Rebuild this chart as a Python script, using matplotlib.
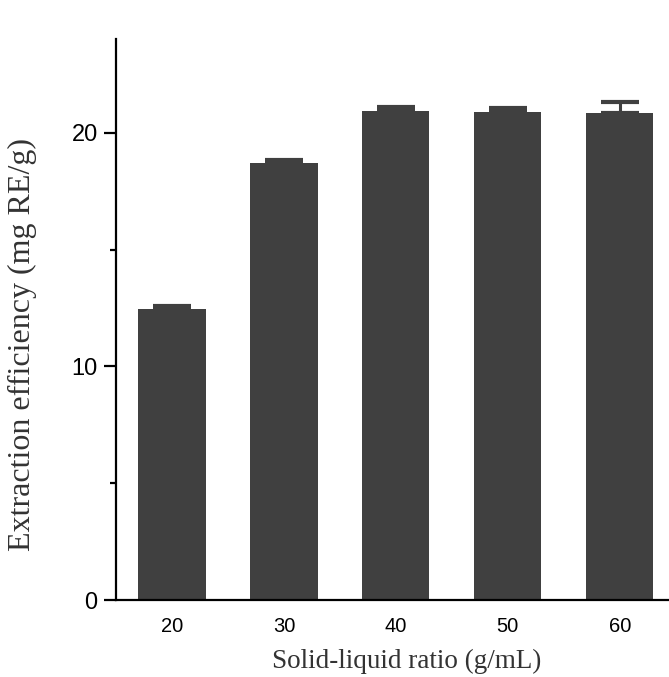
import matplotlib
matplotlib.use("Agg")
import matplotlib.pyplot as plt
from matplotlib.ticker import MultipleLocator

categories = ["20", "30", "40", "50", "60"]
values = [12.46, 18.70, 20.94, 20.91, 20.84]
errors = [0.12, 0.14, 0.19, 0.17, 0.50]

fig = plt.figure(figsize=(6.69, 6.77), dpi=100)
ax = fig.add_axes([0.173, 0.1137, 0.827, 0.828])

x = list(range(len(categories)))
color = "#404040"
ax.bar(x, values, width=0.6, color=color, edgecolor="none", zorder=2)
ax.errorbar(x, values, yerr=[[0]*len(errors), errors], fmt="none", ecolor=color,
            elinewidth=2.2, capsize=14, capthick=3, zorder=3)

ax.set_xlim(-0.503, 4.44)
ax.set_ylim(0, 24)
ax.set_xticks(x)
ax.set_xticklabels(categories, fontfamily="Liberation Sans", fontsize=14.5)
ax.tick_params(axis="x", length=0, pad=12)
ax.yaxis.set_major_locator(MultipleLocator(10))
ax.yaxis.set_minor_locator(MultipleLocator(5))
ax.tick_params(axis="y", which="major", length=9, width=1.6, labelsize=17, pad=4)
ax.tick_params(axis="y", which="minor", length=4.5, width=1.6)
for lab in ax.get_yticklabels():
    lab.set_fontfamily("Liberation Sans")

for s in ["top", "right"]:
    ax.spines[s].set_visible(False)
for s in ["left", "bottom"]:
    ax.spines[s].set_linewidth(1.6)

ax.set_xlabel("Solid-liquid ratio (g/mL)", fontfamily="Liberation Serif", fontsize=19.5, color="#333333")
ax.xaxis.set_label_coords(0.525, -0.087)
ax.set_ylabel("Extraction efficiency (mg RE/g)", fontfamily="Liberation Serif", fontsize=23, color="#333333")
ax.yaxis.set_label_coords(-0.142, 0.455)

fig.savefig("out.png", dpi=100)
